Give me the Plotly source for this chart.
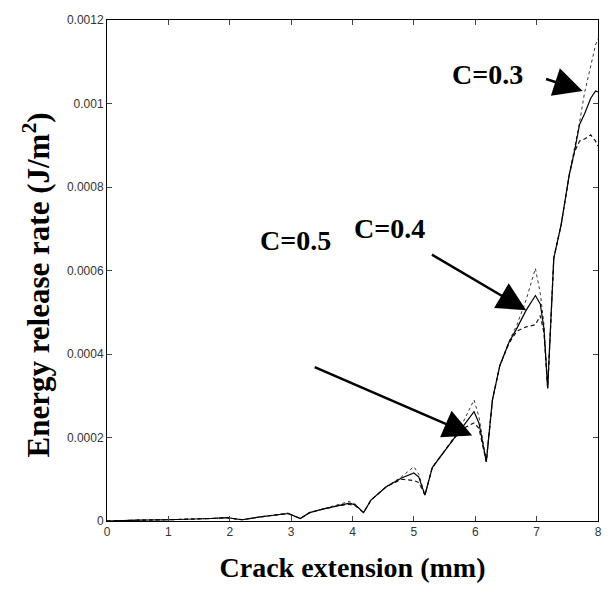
import plotly.graph_objects as go

# Crack extension (mm)
x_mm = [0, 0.2, 0.5, 1.0, 1.3, 1.7, 1.95, 2.1, 2.2, 2.5, 2.8, 2.95, 3.15, 3.3, 3.5, 3.75,
        3.95, 4.05, 4.18, 4.3, 4.55, 4.8, 5.0, 5.08, 5.18, 5.3, 5.55, 5.78, 5.98, 6.06,
        6.18, 6.28, 6.4, 6.55, 6.68, 6.83, 6.98, 7.06, 7.12, 7.18, 7.28, 7.4, 7.53, 7.62,
        7.7, 7.78, 7.88, 7.96, 8.0]

# Energy release rate (J/m^2), in units of 1e-6
g_c04 = [0, 1, 2, 3, 4, 6, 8, 4, 3, 10, 16, 18, 6, 20, 28, 37,
         43, 38, 20, 50, 82, 103, 115, 105, 62, 128, 178, 225, 262, 235,
         142, 290, 372, 428, 462, 505, 540, 520, 460, 318, 630, 710, 828, 888,
         950, 975, 1012, 1030, 1028]
g_c03 = [0, 1, 2, 3, 4, 6, 8, 4, 3, 10, 16, 19, 6, 20, 28, 38,
         47, 40, 20, 50, 82, 106, 130, 112, 62, 128, 178, 230, 290, 250,
         142, 290, 372, 430, 470, 530, 605, 545, 470, 318, 630, 710, 828, 895,
         955, 1025, 1090, 1140, 1155]
g_c05 = [0, 1, 2, 3, 4, 6, 8, 4, 3, 10, 16, 18, 6, 20, 28, 36,
         40, 36, 20, 50, 82, 100, 97, 92, 62, 128, 178, 220, 235, 222,
         142, 290, 372, 426, 455, 465, 470, 492, 450, 318, 630, 710, 828, 885,
         910, 915, 925, 910, 898]

y_tickvals = [0, 0.0002, 0.0004, 0.0006, 0.0008, 0.001, 0.0012]
y_ticktext = ["0", "0.0002", "0.0004", "0.0006", "0.0008", "0.001", "0.0012"]
x_tickvals = [0, 1, 2, 3, 4, 5, 6, 7, 8]

labels = ["C=0.3", "C=0.4", "C=0.5"]
label_pos = [(6.2, 0.00107), (4.6, 0.0007), (3.07, 0.000673)]
arrow_tip = [(7.75, 0.00103), (6.83, 0.000505), (5.95, 0.000205)]
arrow_tail = [(7.13, 0.00106), (5.27, 0.00064), (3.36, 0.00037)]

sc = 1e-6
fig = go.Figure()
fig.add_trace(go.Scatter(x=x_mm, y=[v * sc for v in g_c03], mode="lines",
                         line=dict(color="#333", width=1, dash="dot"), name="C=0.3"))
fig.add_trace(go.Scatter(x=x_mm, y=[v * sc for v in g_c05], mode="lines",
                         line=dict(color="#111", width=1.2, dash="4px,3px"), name="C=0.5"))
fig.add_trace(go.Scatter(x=x_mm, y=[v * sc for v in g_c04], mode="lines",
                         line=dict(color="black", width=1.2), name="C=0.4"))

title_font = dict(family="Liberation Serif, Times New Roman, serif", size=28, color="black")
ytitle_font = dict(family="Liberation Serif, Times New Roman, serif", size=31, color="black")
tick_font = dict(family="Liberation Sans, Arial, sans-serif", size=12, color="#333")

for txt, (lx, ly) in zip(labels, label_pos):
    fig.add_annotation(x=lx, y=ly, text="<b>" + txt + "</b>", showarrow=False,
                       font=title_font, xanchor="center", yanchor="middle")
for (tx, ty), (ax, ay) in zip(arrow_tip, arrow_tail):
    fig.add_annotation(x=tx, y=ty, ax=ax, ay=ay, axref="x", ayref="y", text="",
                       showarrow=True, arrowhead=2, arrowsize=2.3, arrowwidth=2.5,
                       arrowcolor="black", standoff=0)

# y-axis title placed as a rotated annotation to match its vertical position
fig.add_annotation(xref="paper", yref="paper", x=0, y=0.47, xshift=-70,
                   text="<b>Energy release rate (J/m<sup>2</sup>)</b>", textangle=-90,
                   showarrow=False, font=ytitle_font, xanchor="center", yanchor="middle")

fig.update_layout(
    width=610, height=604,
    margin=dict(l=107, r=8, t=20, b=83),
    paper_bgcolor="white", plot_bgcolor="white",
    showlegend=False,
    xaxis=dict(range=[0, 8], tickvals=x_tickvals, ticks="inside", ticklen=5,
               showline=True, linecolor="black", linewidth=1, mirror="ticks",
               showgrid=False, zeroline=False, tickfont=tick_font,
               title=dict(text="<b>Crack extension (mm)</b>", font=title_font, standoff=18)),
    yaxis=dict(range=[0, 0.0012], tickvals=y_tickvals, ticktext=y_ticktext,
               ticks="inside", ticklen=5,
               showline=True, linecolor="black", linewidth=1, mirror="ticks",
               showgrid=False, zeroline=False, tickfont=tick_font),
)

fig.write_html("out.html")
